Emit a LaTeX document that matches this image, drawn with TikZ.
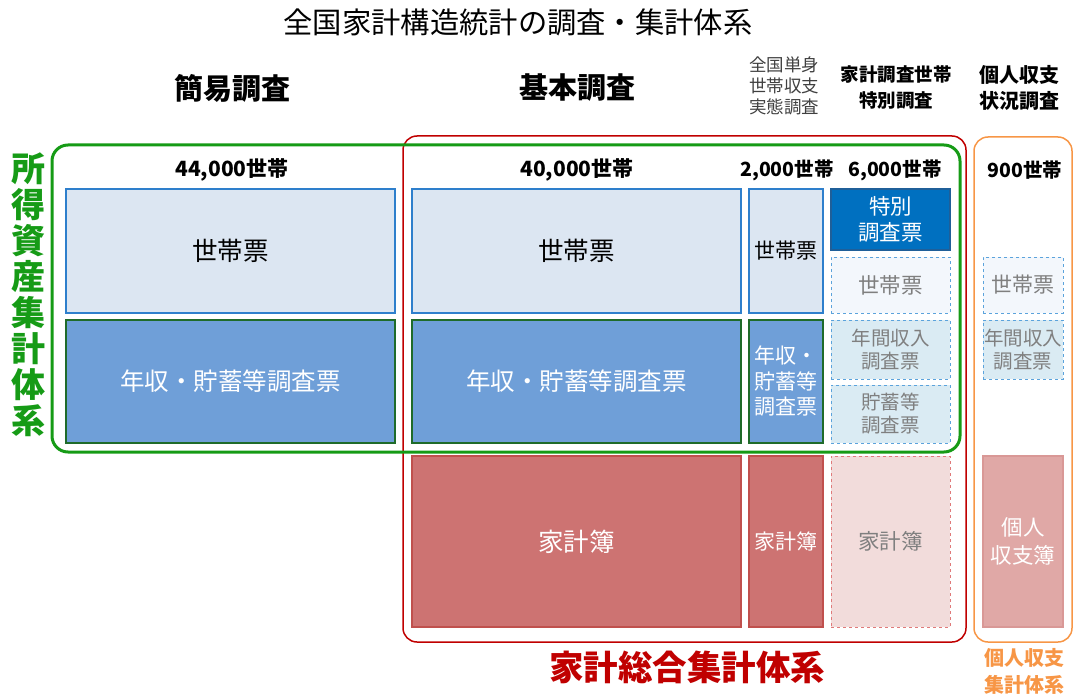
\documentclass[tikz,border=0pt]{standalone}
\usepackage{fontspec}
\setmainfont{Noto Sans CJK JP}
\newcommand\fs[2]{\fontsize{#1}{#2}\selectfont}
\definecolor{hhfill}{HTML}{DCE6F2}
\definecolor{hhline}{HTML}{2E7FCC}
\definecolor{incfill}{HTML}{6F9FD8}
\definecolor{incline}{HTML}{1F6B2A}
\definecolor{kkfill}{HTML}{CD7372}
\definecolor{kkline}{HTML}{C0504D}
\definecolor{spfill}{HTML}{0070C0}
\definecolor{spline}{HTML}{1F5F99}
\definecolor{dhfill}{HTML}{F3F7FC}
\definecolor{dline}{HTML}{5BA3DC}
\definecolor{difill}{HTML}{DAEBF3}
\definecolor{dkfill}{HTML}{F2DCDB}
\definecolor{dkline}{HTML}{E07A7A}
\definecolor{pkfill}{HTML}{E0A8A6}
\definecolor{pkline}{HTML}{D99896}
\definecolor{grn}{HTML}{169B16}
\definecolor{rd}{HTML}{C00000}
\definecolor{org}{HTML}{F79646}
\definecolor{gtext}{HTML}{7F7F7F}
\definecolor{dtext}{HTML}{404040}
\tikzset{
  every node/.style={inner sep=0pt, outer sep=0pt},
  cell/.style={draw, line width=1.3pt, align=center},
  hh/.style={cell, fill=hhfill, draw=hhline},
  inc/.style={cell, fill=incfill, draw=incline, text=white},
  kk/.style={cell, fill=kkfill, draw=kkline, text=white},
  sp/.style={cell, fill=spfill, draw=spline, text=white},
  dh/.style={cell, fill=dhfill, draw=dline, dashed, line width=1pt, text=gtext},
  di/.style={cell, fill=difill, draw=dline, dashed, line width=1pt, text=gtext},
  dk/.style={cell, fill=dkfill, draw=dkline, dashed, line width=1pt, text=gtext},
  pk/.style={cell, fill=pkfill, draw=pkline, text=white},
  frame/.style={rectangle, rounded corners=14pt, anchor=north west},
  hdr/.style={align=center, font=\bfseries\fs{29}{34}},
  cnt/.style={align=center, font=\bfseries\fs{19.5}{24}},
}
\begin{document}
\begin{tikzpicture}[x=1pt, y=-1pt]
\useasboundingbox (0,0) rectangle (1076,695);
% frames
\node[frame, draw=rd, line width=1.5pt, minimum width=563pt, minimum height=506pt] (redf) at (403,136) {};
\node[frame, draw=org, line width=1.5pt, minimum width=98pt, minimum height=505pt] (orgf) at (974,137) {};
\node[frame, draw=grn, line width=3pt, rounded corners=16pt, minimum width=908pt, minimum height=307pt] (grnf) at (52,145) {};
% title and headers
\node[font=\fs{29.3}{32}] (title) at (518,22) {全国家計構造統計の調査・集計体系};
\node[hdr] (kan) at (232,88) {簡易調査};
\node[hdr] (kih) at (577,88) {基本調査};
\node[align=center, text=dtext, font=\fs{17.5}{21}] (tan) at (784,86) {全国単身\\世帯収支\\実態調査};
\node[align=center, font=\bfseries\fs{18.5}{26}] (tok) at (896,88) {家計調査世帯\\特別調査};
\node[align=center, font=\bfseries\fs{20}{26}] (kjn) at (1019,88) {個人収支\\状況調査};
% counts
\node[cnt, font=\bfseries\fs{21}{24}] (c1) at (232,170) {44,000世帯};
\node[cnt, font=\bfseries\fs{21}{24}] (c2) at (577,170) {40,000世帯};
\node[cnt] (c3) at (787,170) {2,000世帯};
\node[cnt] (c4) at (895,170) {6,000世帯};
\node[cnt] (c5) at (1025,170) {900世帯};
% left column
\node[hh, minimum width=329pt, minimum height=124pt, font=\fs{25.5}{28}] (a1) at (230.5,251) {世帯票};
\node[inc, minimum width=329pt, minimum height=123pt, font=\fs{24.5}{28}] (a2) at (230.5,381.5) {年収・貯蓄等調査票};
% middle column
\node[hh, minimum width=329pt, minimum height=124pt, font=\fs{25.5}{28}] (b1) at (576.5,251) {世帯票};
\node[inc, minimum width=329pt, minimum height=123pt, font=\fs{24.5}{28}] (b2) at (576.5,381.5) {年収・貯蓄等調査票};
\node[kk, minimum width=329pt, minimum height=171pt, font=\fs{25.5}{28}] (b3) at (576.5,541.5) {家計簿};
% narrow column
\node[hh, minimum width=74pt, minimum height=124pt, font=\fs{21}{25}] (n1) at (786,251) {世帯票};
\node[inc, minimum width=74pt, minimum height=123pt, font=\fs{21}{25.5}] (n2) at (786,381.5) {年収・\\貯蓄等\\調査票};
\node[kk, minimum width=74pt, minimum height=171pt, font=\fs{21}{25}] (n3) at (786,541.5) {家計簿};
% special survey column
\node[sp, minimum width=119pt, minimum height=61pt, font=\fs{21.5}{26}] (d1) at (890.5,219.5) {特別\\調査票};
\node[dh, minimum width=119pt, minimum height=56pt, font=\fs{21.5}{25}] (d2) at (890.5,285) {世帯票};
\node[di, minimum width=119pt, minimum height=59pt, font=\fs{19.5}{23}] (d3) at (890.5,349.5) {年間収入\\調査票};
\node[di, minimum width=119pt, minimum height=58pt, font=\fs{19.5}{23}] (d4) at (890.5,414) {貯蓄等\\調査票};
\node[dk, minimum width=119pt, minimum height=171pt, font=\fs{21.5}{25}] (d5) at (890.5,541.5) {家計簿};
% individual column
\node[dh, minimum width=80pt, minimum height=56pt, font=\fs{21}{25}] (e2) at (1023,285) {世帯票};
\node[di, minimum width=80pt, minimum height=59pt, font=\fs{19.5}{23}] (e3) at (1023,349.5) {年間収入\\調査票};
\node[pk, minimum width=80pt, minimum height=171pt, font=\fs{21.5}{28}] (e5) at (1023,541.5) {個人\\収支簿};
% system labels
\node[align=center, text=grn, font=\bfseries\fs{34}{36}] (vlab) at (29,295) {所\\得\\資\\産\\集\\計\\体\\系};
\node[text=rd, font=\bfseries\fs{34.5}{36}] (rlab) at (687,667) {家計総合集計体系};
\node[align=center, text=org, font=\bfseries\fs{20}{27}] (olab) at (1024,671) {個人収支\\集計体系};
\end{tikzpicture}
\end{document}
